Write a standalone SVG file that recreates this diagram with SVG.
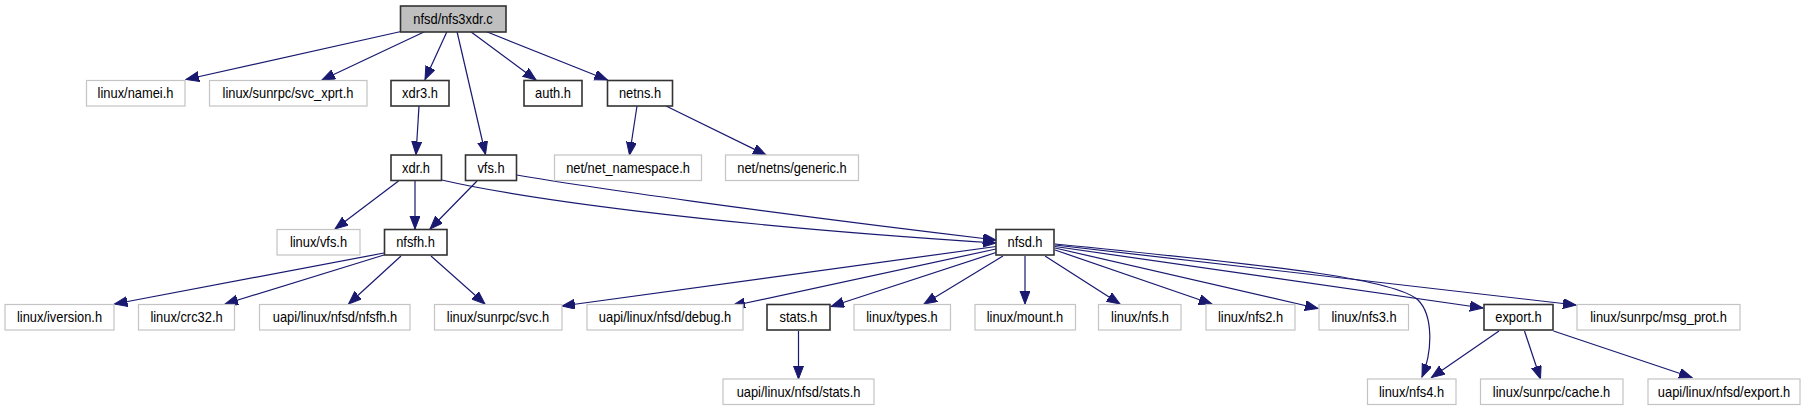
<svg xmlns="http://www.w3.org/2000/svg" width="1811" height="411" viewBox="0 0 1811 411">
<style>
text{font-family:"Liberation Sans",Arial,Helvetica,sans-serif;font-size:14.8px;fill:#000;text-anchor:middle}
.g{fill:#fff;stroke:#c4c4c4;stroke-width:1.2}
.b{fill:#fff;stroke:#333;stroke-width:1.6}
.m{fill:#bfbfbf;stroke:#333;stroke-width:1.6}
#edges path{fill:none;stroke:#191970;stroke-width:1.2;marker-end:url(#a)}
</style>
<defs>
<marker id="a" markerWidth="14" markerHeight="11" refX="13" refY="5" orient="auto" markerUnits="userSpaceOnUse">
<path d="M0,0 L13,5 L0,10 z" fill="#191970" stroke="#191970" stroke-width="1"/>
</marker>
</defs>
<rect width="1811" height="411" fill="#fff"/>
<g id="edges">
<path d="M401,31.5 L186,79.5"/>
<path d="M425,31.5 L322,80"/>
<path d="M447,31.5 L425,79.5"/>
<path d="M457,31.5 L485.5,154.5"/>
<path d="M470.5,31.5 L536,80"/>
<path d="M486,31.5 L607.5,80"/>
<path d="M419,106 L416,154.5"/>
<path d="M637,106 L629.5,155"/>
<path d="M666,106 L766,155"/>
<path d="M398.5,181 L335,229"/>
<path d="M415,181 L415,229"/>
<path d="M477,181 L430,229"/>
<path d="M441.7,180 C520,198 700,224 996,243"/>
<path d="M516.7,175 C580,186 760,212 996,240"/>
<path d="M384,253 L114.5,304"/>
<path d="M384,255 L225,304"/>
<path d="M401,256 L348.5,304"/>
<path d="M431,256 L485,304"/>
<path d="M996,246.5 L562,306"/>
<path d="M996,249 L732,306"/>
<path d="M996,252.5 L831,306.5"/>
<path d="M1003,256 L924,304"/>
<path d="M1025,256 L1025,304"/>
<path d="M1045,256 L1120,304"/>
<path d="M1055,250 L1212,304"/>
<path d="M1055,248 L1318,308.5"/>
<path d="M1055,246.5 L1483,308"/>
<path d="M1055,245 L1576,305"/>
<path d="M1055,244 C1300,268 1395,280 1418,300 C1433,315 1433,350 1422,377"/>
<path d="M798.5,331 L798.5,379"/>
<path d="M1499,331 L1431.5,377.5"/>
<path d="M1524.5,331 L1540.5,379"/>
<path d="M1553.5,331 L1692,377.5"/>
</g>
<g id="n_main"><rect class="m" x="400.5" y="6" width="105.5" height="26"/><text transform="translate(453,23.5) scale(0.87,1)">nfsd/nfs3xdr.c</text></g>
<g id="n_namei"><rect class="g" x="86.5" y="80.5" width="98.5" height="25.5"/><text transform="translate(135.5,98) scale(0.87,1)">linux/namei.h</text></g>
<g id="n_svc_xprt"><rect class="g" x="209.5" y="80.5" width="157.5" height="25.5"/><text transform="translate(288,98) scale(0.87,1)">linux/sunrpc/svc_xprt.h</text></g>
<g id="n_xdr3"><rect class="b" x="391" y="80.5" width="58" height="25.5"/><text transform="translate(420,98) scale(0.87,1)">xdr3.h</text></g>
<g id="n_auth"><rect class="b" x="524" y="80.5" width="58" height="25.5"/><text transform="translate(553,98) scale(0.87,1)">auth.h</text></g>
<g id="n_netns"><rect class="b" x="607.5" y="80.5" width="65" height="25.5"/><text transform="translate(640,98) scale(0.87,1)">netns.h</text></g>
<g id="n_xdr"><rect class="b" x="391" y="155" width="50.5" height="25.5"/><text transform="translate(416,172.5) scale(0.87,1)">xdr.h</text></g>
<g id="n_vfs"><rect class="b" x="465.5" y="155" width="51" height="25.5"/><text transform="translate(491,172.5) scale(0.87,1)">vfs.h</text></g>
<g id="n_netns_ns"><rect class="g" x="554.5" y="155" width="147" height="25.5"/><text transform="translate(628,172.5) scale(0.87,1)">net/net_namespace.h</text></g>
<g id="n_generic"><rect class="g" x="725.5" y="155" width="133" height="25.5"/><text transform="translate(792,172.5) scale(0.87,1)">net/netns/generic.h</text></g>
<g id="n_linux_vfs"><rect class="g" x="277" y="229.5" width="83" height="25.5"/><text transform="translate(318.5,247) scale(0.87,1)">linux/vfs.h</text></g>
<g id="n_nfsfh"><rect class="b" x="384.5" y="229.5" width="62.5" height="25.5"/><text transform="translate(415.5,247) scale(0.87,1)">nfsfh.h</text></g>
<g id="n_nfsd"><rect class="b" x="996" y="229.5" width="58" height="25.5"/><text transform="translate(1025,247) scale(0.87,1)">nfsd.h</text></g>
<g id="n_iversion"><rect class="g" x="5" y="304.5" width="109" height="25.5"/><text transform="translate(59.5,322) scale(0.87,1)">linux/iversion.h</text></g>
<g id="n_crc32"><rect class="g" x="138.5" y="304.5" width="96" height="25.5"/><text transform="translate(186.5,322) scale(0.87,1)">linux/crc32.h</text></g>
<g id="n_uapi_nfsfh"><rect class="g" x="259.5" y="304.5" width="150.5" height="25.5"/><text transform="translate(335,322) scale(0.87,1)">uapi/linux/nfsd/nfsfh.h</text></g>
<g id="n_svc"><rect class="g" x="434.5" y="304.5" width="127.5" height="25.5"/><text transform="translate(498,322) scale(0.87,1)">linux/sunrpc/svc.h</text></g>
<g id="n_debug"><rect class="g" x="587" y="304.5" width="156" height="25.5"/><text transform="translate(665,322) scale(0.87,1)">uapi/linux/nfsd/debug.h</text></g>
<g id="n_stats"><rect class="b" x="767" y="304.5" width="63" height="25.5"/><text transform="translate(798.5,322) scale(0.87,1)">stats.h</text></g>
<g id="n_types"><rect class="g" x="854" y="304.5" width="96.5" height="25.5"/><text transform="translate(902,322) scale(0.87,1)">linux/types.h</text></g>
<g id="n_mount"><rect class="g" x="975" y="304.5" width="100.5" height="25.5"/><text transform="translate(1025,322) scale(0.87,1)">linux/mount.h</text></g>
<g id="n_nfs"><rect class="g" x="1098.5" y="304.5" width="82.5" height="25.5"/><text transform="translate(1140,322) scale(0.87,1)">linux/nfs.h</text></g>
<g id="n_nfs2"><rect class="g" x="1206" y="304.5" width="89" height="25.5"/><text transform="translate(1250.5,322) scale(0.87,1)">linux/nfs2.h</text></g>
<g id="n_nfs3"><rect class="g" x="1319" y="304.5" width="89.5" height="25.5"/><text transform="translate(1364,322) scale(0.87,1)">linux/nfs3.h</text></g>
<g id="n_export"><rect class="b" x="1484" y="304.5" width="69" height="25.5"/><text transform="translate(1518.5,322) scale(0.87,1)">export.h</text></g>
<g id="n_msg_prot"><rect class="g" x="1577" y="304.5" width="163" height="25.5"/><text transform="translate(1658.5,322) scale(0.87,1)">linux/sunrpc/msg_prot.h</text></g>
<g id="n_uapi_stats"><rect class="g" x="723" y="379" width="151" height="25.5"/><text transform="translate(798.5,396.5) scale(0.87,1)">uapi/linux/nfsd/stats.h</text></g>
<g id="n_nfs4"><rect class="g" x="1367.5" y="379" width="88.5" height="25.5"/><text transform="translate(1411.5,396.5) scale(0.87,1)">linux/nfs4.h</text></g>
<g id="n_cache"><rect class="g" x="1480.5" y="379" width="142.5" height="25.5"/><text transform="translate(1551.5,396.5) scale(0.87,1)">linux/sunrpc/cache.h</text></g>
<g id="n_uapi_export"><rect class="g" x="1648" y="379" width="152" height="25.5"/><text transform="translate(1724,396.5) scale(0.87,1)">uapi/linux/nfsd/export.h</text></g>
</svg>
